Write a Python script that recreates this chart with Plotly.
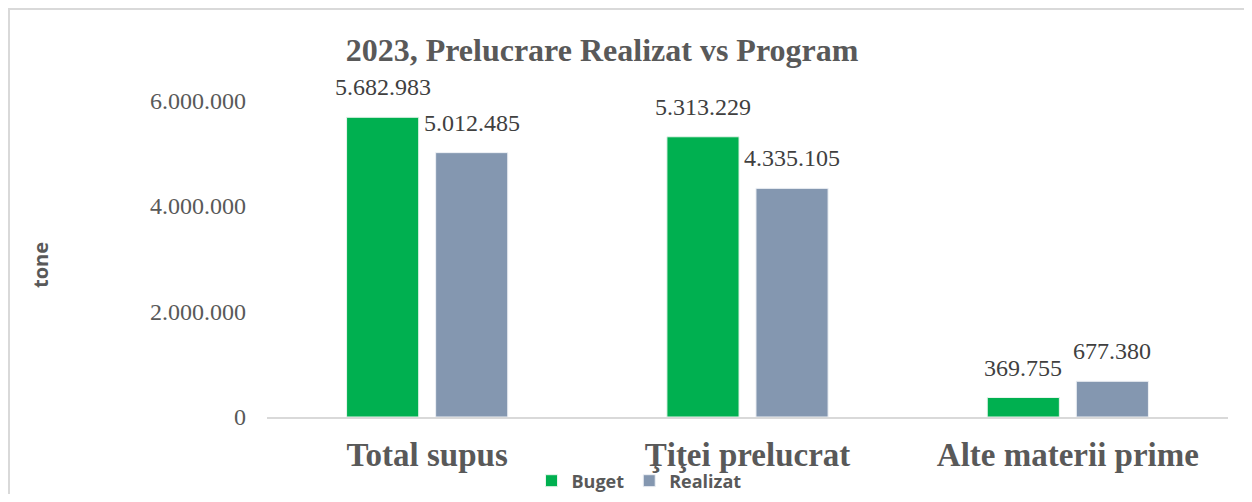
import plotly.graph_objects as go

categories = ["Total supus", "Ţiţei prelucrat", "Alte materii prime"]
buget = [5682983, 5313229, 369755]
realizat = [5012485, 4335105, 677380]
y_ticks = [0, 2000000, 4000000, 6000000]

# the page body has an 8px margin, so the figure is 16px smaller than the window
PAD = 8
W, H = 1252 - 2 * PAD, 502 - 2 * PAD
L, R, T, B = 259, 16, 82, 77
pw, ph = W - L - R, H - T - B

serif = "Liberation Serif, Times New Roman, serif"
sans = "Open Sans, Noto Sans, sans-serif"
grey = "#595959"
bargap = 0.444


def fmt(v):
    return f"{v:,}".replace(",", ".")


def px(x):
    # reference x pixel -> paper x
    return (x - PAD - L) / pw


def py(y):
    # reference y pixel -> paper y
    return (H - B - (y - PAD)) / ph


fig = go.Figure()
fig.add_trace(go.Bar(name="Buget", x=categories, y=buget, marker_color="#00B050",
                     marker_line=dict(color="#E8F5EC", width=1)))
fig.add_trace(go.Bar(name="Realizat", x=categories, y=realizat, marker_color="#8497B0",
                     marker_line=dict(color="#EEF1F5", width=1)))

# data labels above the bars
off = (1 - bargap) / 4
for i, cat in enumerate(categories):
    for vals, shift in ((buget, -off), (realizat, off)):
        fig.add_annotation(x=i + shift, y=vals[i], xref="x", yref="y",
                           text=fmt(vals[i]), showarrow=False,
                           yanchor="middle", yshift=30,
                           font=dict(family=serif, size=24, color="#404040"))

fig.add_annotation(text="tone", textangle=-90, showarrow=False,
                   xref="paper", yref="paper", x=px(40), y=py(265),
                   xanchor="center", yanchor="middle",
                   font=dict(family=sans, size=20, color=grey, weight="bold"))

# outer frame (cut off at right and bottom)
fig.add_shape(type="rect", xref="paper", yref="paper",
              x0=(1 - L) / pw, x1=(W + 20 - L) / pw,
              y0=-(B + 20) / ph, y1=(H - B - 1) / ph,
              line=dict(color="#D9D9D9", width=2), fillcolor="rgba(0,0,0,0)")

fig.update_layout(
    width=W, height=H,
    margin=dict(l=L, r=R, t=T, b=B, autoexpand=False),
    paper_bgcolor="white", plot_bgcolor="white",
    separators=",.",
    barmode="group", bargap=bargap, bargroupgap=0.19,
    title=dict(text="2023, Prelucrare Realizat vs Program",
               x=(602 - PAD) / W, y=1 - (50 - PAD) / H,
               xanchor="center", yanchor="middle",
               font=dict(family=serif, size=32, color=grey, weight="bold")),
    legend=dict(orientation="h", x=px(639), y=py(481),
                xanchor="center", yanchor="middle", bgcolor="rgba(0,0,0,0)",
                font=dict(family=sans, size=18, color=grey, weight="bold"),
                itemwidth=30, tracegroupgap=0),
    showlegend=True,
)
fig.update_xaxes(showline=True, linecolor="#D9D9D9", linewidth=2,
                 ticks="", ticklabelstandoff=7, automargin=False,
                 tickfont=dict(family=serif, size=33, color=grey, weight="bold"))
fig.update_yaxes(range=[0, 6.2e6], tickvals=y_ticks, tickformat=",d",
                 showgrid=False, zeroline=False, showline=False,
                 ticklabelstandoff=20, automargin=False,
                 tickfont=dict(family=serif, size=24, color=grey))

fig.write_html("out.html")
